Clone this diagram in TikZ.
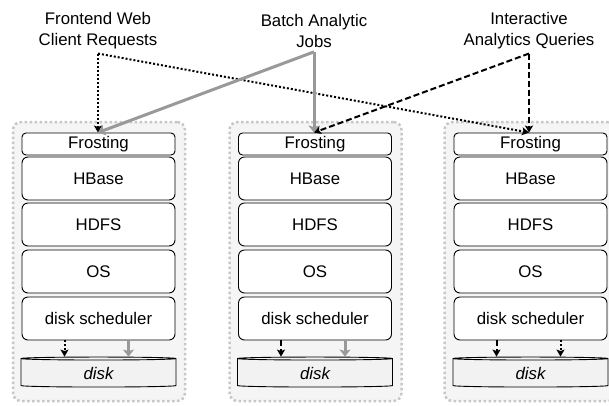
\documentclass[tikz,border=0pt]{standalone}
\usepackage{fontspec}
\setmainfont{Liberation Sans}
\usetikzlibrary{shapes.geometric,arrows.meta}

\begin{document}
\begin{tikzpicture}[x=1pt, y=-1pt,
    every node/.style={font=\fontsize{16.8}{21}\selectfont},
    stack/.style={draw=black!22, line width=2.5pt, dash pattern=on 2.5pt off 2.5pt,
        fill=black!4, rounded corners=8pt, minimum width=172, minimum height=279},
    layer/.style={draw, line width=0.9pt, fill=white, rounded corners=6pt,
        minimum width=153, minimum height=43, inner sep=0pt},
    frost/.style={layer, rounded corners=4pt, minimum height=22},
    disk/.style={draw, line width=0.9pt, fill=black!5, cylinder, shape border rotate=90,
        aspect=0.1, minimum width=155, minimum height=30, inner sep=0pt,
        font=\fontsize{16.8}{21}\selectfont\itshape},
    web/.style={line width=2pt, dash pattern=on 2pt off 2pt,
        -{Stealth[length=7pt,width=8pt,inset=1.5pt]}},
    batch/.style={line width=3pt, draw=black!40,
        -{Stealth[length=7pt,width=11pt,inset=1.5pt]}},
    query/.style={line width=2pt, dash pattern=on 6pt off 3pt,
        -{Stealth[length=7pt,width=8pt,inset=1.5pt]}},
]
        \clip (0,0) rectangle (609,405);

        % request sources
        \node[align=center, inner ysep=4pt] (web) at (98,31) {Frontend Web\\Client Requests};
        \node[align=center, inner ysep=4pt] (jobs) at (314,31) {Batch Analytic\\Jobs};
        \node[align=center, inner ysep=4pt] (queries) at (529,31) {Interactive\\Analytics Queries};

        % left server
        \node[stack] (lserver) at (99,261.5) {};
        \node[frost] (lfrost) at (98.5,144) {Frosting};
        \node[layer] (lhbase) at (98.5,178.5) {HBase};
        \node[layer] (lhdfs) at (98.5,224.5) {HDFS};
        \node[layer] (los) at (98.5,271.5) {OS};
        \node[layer] (lsched) at (98.5,318.5) {disk scheduler};
        \node[disk] (ldisk) at (98.5,373) {disk};

        % middle server
        \node[stack] (mserver) at (315.5,261.5) {};
        \node[frost] (mfrost) at (315,144) {Frosting};
        \node[layer] (mhbase) at (315,178.5) {HBase};
        \node[layer] (mhdfs) at (315,224.5) {HDFS};
        \node[layer] (mos) at (315,271.5) {OS};
        \node[layer] (msched) at (315,318.5) {disk scheduler};
        \node[disk] (mdisk) at (315,373) {disk};

        % right server
        \node[stack] (rserver) at (530.5,261.5) {};
        \node[frost] (rfrost) at (530.5,144) {Frosting};
        \node[layer] (rhbase) at (530.5,178.5) {HBase};
        \node[layer] (rhdfs) at (530.5,224.5) {HDFS};
        \node[layer] (ros) at (530.5,271.5) {OS};
        \node[layer] (rsched) at (530.5,318.5) {disk scheduler};
        \node[disk] (rdisk) at (530.5,373) {disk};

        % requests into frosting
        \draw[web] (web.south)--(web.south|-lfrost.north);
        \draw[web] (web.south)--(queries.south|-rfrost.north);
        \draw[batch] (jobs.south)--(jobs.south|-mfrost.north);
        \draw[batch] (jobs.south)--(web.south|-lfrost.north);
        \draw[query] (queries.south)--(queries.south|-rfrost.north);
        \draw[query] (queries.south)--(jobs.south|-mfrost.north);

        % scheduler to disk
        \draw[web] ([xshift=-34pt]lsched.south)--([xshift=-34pt]lsched.south|-ldisk.north);
        \draw[batch] ([xshift=30pt]lsched.south)--([xshift=30pt]lsched.south|-ldisk.north);
        \draw[query] ([xshift=-34pt]msched.south)--([xshift=-34pt]msched.south|-mdisk.north);
        \draw[batch] ([xshift=30pt]msched.south)--([xshift=30pt]msched.south|-mdisk.north);
        \draw[query] ([xshift=-34pt]rsched.south)--([xshift=-34pt]rsched.south|-rdisk.north);
        \draw[web] ([xshift=30pt]rsched.south)--([xshift=30pt]rsched.south|-rdisk.north);
\end{tikzpicture}
\end{document}
